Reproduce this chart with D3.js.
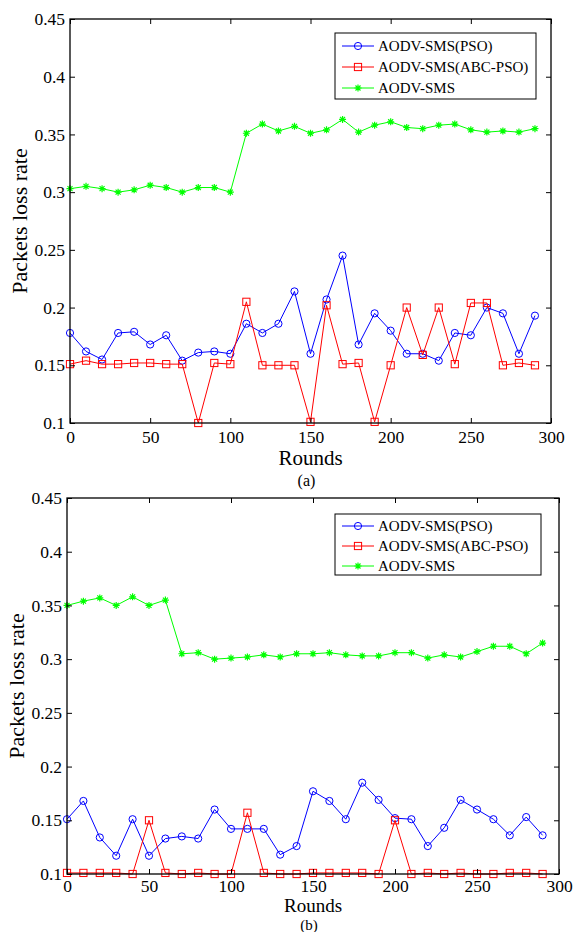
<!DOCTYPE html>
<html>
<head>
<meta charset="utf-8">
<script src="https://cdn.jsdelivr.net/npm/d3@7"></script>
<style>
  body { margin: 0; background: #fff; }
  text { font-family: "Liberation Serif", "Times New Roman", serif; fill: #000; }
</style>
</head>
<body>
<svg id="fig" width="574" height="932"></svg>
<script>
// rounds on the x axis
const rounds = [0, 10, 20, 30, 40, 50, 60, 70, 80, 90, 100, 110, 120, 130, 140,
                150, 160, 170, 180, 190, 200, 210, 220, 230, 240, 250, 260, 270, 280, 290]

// (a)
const psoA = [0.178, 0.162, 0.155, 0.178, 0.179, 0.168, 0.176, 0.154, 0.161, 0.162, 0.160, 0.186, 0.178, 0.186, 0.214,
              0.160, 0.207, 0.245, 0.168, 0.195, 0.180, 0.160, 0.160, 0.154, 0.178, 0.176, 0.200, 0.195, 0.160, 0.193]
const abcA = [0.151, 0.154, 0.151, 0.151, 0.152, 0.152, 0.151, 0.151, 0.100, 0.152, 0.151, 0.205, 0.150, 0.150, 0.150,
              0.101, 0.202, 0.151, 0.152, 0.101, 0.150, 0.200, 0.159, 0.200, 0.151, 0.204, 0.204, 0.150, 0.152, 0.150]
const smsA = [0.303, 0.305, 0.303, 0.300, 0.302, 0.306, 0.304, 0.300, 0.304, 0.304, 0.300, 0.351, 0.359, 0.353, 0.357,
              0.351, 0.354, 0.363, 0.352, 0.358, 0.361, 0.356, 0.355, 0.358, 0.359, 0.354, 0.352, 0.353, 0.352, 0.355]

// (b)
const psoB = [0.151, 0.168, 0.134, 0.117, 0.151, 0.117, 0.133, 0.135, 0.133, 0.160, 0.142, 0.142, 0.142, 0.118, 0.126,
              0.177, 0.168, 0.151, 0.185, 0.169, 0.152, 0.151, 0.126, 0.143, 0.169, 0.160, 0.151, 0.136, 0.153, 0.136]
const abcB = [0.101, 0.101, 0.101, 0.101, 0.100, 0.150, 0.101, 0.100, 0.101, 0.100, 0.100, 0.157, 0.101, 0.100, 0.100,
              0.101, 0.101, 0.101, 0.101, 0.100, 0.150, 0.100, 0.101, 0.100, 0.101, 0.100, 0.100, 0.101, 0.101, 0.100]
const smsB = [0.350, 0.354, 0.357, 0.350, 0.358, 0.350, 0.355, 0.305, 0.306, 0.300, 0.301, 0.302, 0.304, 0.302, 0.305,
              0.305, 0.306, 0.304, 0.303, 0.303, 0.306, 0.306, 0.301, 0.304, 0.302, 0.307, 0.312, 0.312, 0.305, 0.315]

const seriesNames = ["AODV-SMS(PSO)", "AODV-SMS(ABC-PSO)", "AODV-SMS"]
const seriesColors = ["#0000ff", "#ff0000", "#00ff00"]
const seriesMarks = ["circle", "square", "star"]

const xTicks = [0, 50, 100, 150, 200, 250, 300]
const yTicks = [0.1, 0.15, 0.2, 0.25, 0.3, 0.35, 0.4, 0.45]
const xTitle = "Rounds"
const yTitle = "Packets loss rate"

const serif = '"Liberation Serif", "Times New Roman", serif'
const svg = d3.select("#fig")

// draws one marker shape at the origin of g
function marker(g, kind, color){
	if(kind == "circle"){
		g.append("circle").attr("r", 3.6).attr("fill", "none").attr("stroke", color).attr("stroke-width", 1)
	}else if(kind == "square"){
		g.append("rect").attr("x", -3.6).attr("y", -3.6).attr("width", 7.2).attr("height", 7.2)
			.attr("fill", "none").attr("stroke", color).attr("stroke-width", 1)
	}else{
		g.append("path").attr("d", "M-3.5,0H3.5M0,-3.5V3.5M-2.5,-2.5L2.5,2.5M-2.5,2.5L2.5,-2.5")
			.attr("fill", "none").attr("stroke", color).attr("stroke-width", 1.2)
	}
}

function panel(p){
	const x = d3.scaleLinear().domain([0, 300]).range([p.left, p.right])
	const y = d3.scaleLinear().domain([0.1, 0.45]).range([p.bottom, p.top])
	const g = svg.append("g")

	// series
	p.series.forEach((vals, k) => {
		const pts = rounds.map((r, i) => [r, vals[i]])
		g.append("path")
			.datum(pts)
			.attr("fill", "none")
			.attr("stroke", seriesColors[k])
			.attr("stroke-width", 1)
			.attr("d", d3.line().x(d => x(d[0])).y(d => y(d[1])))
		pts.forEach(d => {
			const m = g.append("g").attr("transform", "translate(" + x(d[0]) + "," + y(d[1]) + ")")
			marker(m, seriesMarks[k], seriesColors[k])
		})
	})

	// axes, ticks inward on all four sides
	const fmt = d => d3.format("")(+d.toFixed(2))
	const ax = [
		g.append("g").attr("transform", "translate(0," + p.bottom + ")")
			.call(d3.axisBottom(x).tickValues(xTicks).tickSize(-5).tickPadding(p.xPad)),
		g.append("g").attr("transform", "translate(0," + p.top + ")")
			.call(d3.axisTop(x).tickValues(xTicks).tickSize(-5).tickFormat("")),
		g.append("g").attr("transform", "translate(" + p.left + ",0)")
			.call(d3.axisLeft(y).tickValues(yTicks).tickSize(-5).tickPadding(5).tickFormat(fmt)),
		g.append("g").attr("transform", "translate(" + p.right + ",0)")
			.call(d3.axisRight(y).tickValues(yTicks).tickSize(-5).tickFormat(""))
	]
	ax.forEach(a => {
		a.select(".domain").remove()
		a.attr("font-family", serif).attr("font-size", 17)
		a.selectAll("line").attr("stroke", "#000").attr("stroke-width", 1)
		a.selectAll("text").style("font-family", serif).style("font-size", "17.5px").attr("fill", "#000")
	})
	g.append("rect")
		.attr("x", p.left).attr("y", p.top)
		.attr("width", p.right - p.left).attr("height", p.bottom - p.top)
		.attr("fill", "none").attr("stroke", "#000").attr("stroke-width", 1.3)

	// titles
	g.append("text").attr("x", (p.left + p.right) / 2).attr("y", p.xTitleY)
		.attr("text-anchor", "middle").style("font-size", p.xTitleSize + "px").text(xTitle)
	g.append("text").attr("x", (p.left + p.right) / 2 - 4).attr("y", p.capY)
		.attr("text-anchor", "middle").style("font-size", p.capSize + "px").text(p.caption)
	g.append("text")
		.attr("transform", "translate(" + p.yTitleX + "," + (p.top + p.bottom) / 2 + ") rotate(-90)")
		.attr("text-anchor", "middle").style("font-size", "22px").text(yTitle)

	// legend
	const lg = g.append("g").attr("transform", "translate(" + p.leg.x + "," + p.leg.y + ")")
	lg.append("rect").attr("width", p.leg.w).attr("height", p.leg.h)
		.attr("fill", "#fff").attr("stroke", "#000").attr("stroke-width", 1)
	seriesNames.forEach((name, k) => {
		const cy = p.leg.pad + k * p.leg.step
		lg.append("line").attr("x1", 7).attr("x2", 39).attr("y1", cy).attr("y2", cy)
			.attr("stroke", seriesColors[k]).attr("stroke-width", 1)
		marker(lg.append("g").attr("transform", "translate(23," + cy + ")"), seriesMarks[k], seriesColors[k])
		lg.append("text").attr("x", 43).attr("y", cy).attr("dy", "0.35em")
			.style("font-size", "15px").text(name)
	})
}

panel({
	left: 70, right: 551, top: 19, bottom: 423,
	series: [psoA, abcA, smsA],
	xPad: 8, xTitleY: 465, xTitleSize: 21, capY: 486, capSize: 16, yTitleX: 27, caption: "(a)",
	leg: {x: 335, y: 33, w: 201, h: 66, pad: 13, step: 21}
})

panel({
	left: 67, right: 559, top: 498, bottom: 874,
	series: [psoB, abcB, smsB],
	xPad: 6, xTitleY: 912, xTitleSize: 19, capY: 930, capSize: 15, yTitleX: 24, caption: "(b)",
	leg: {x: 335, y: 514, w: 206, h: 61, pad: 12, step: 20}
})
</script>
</body>
</html>
